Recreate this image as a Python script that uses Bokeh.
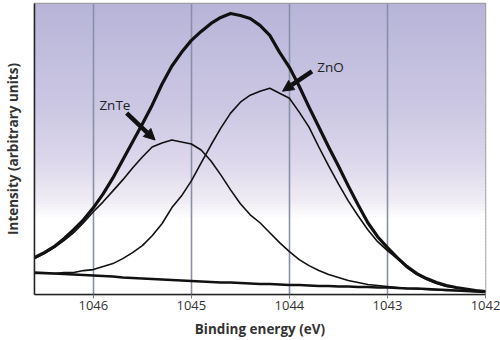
from bokeh.plotting import figure
from bokeh.models import Range1d, FixedTicker, Arrow, NormalHead, Label
from bokeh.embed import file_html
from bokeh.resources import INLINE

# Binding energy (eV), 0.1 eV steps from 1046.6 down to 1042.0
energy = [1046.6, 1046.5, 1046.4, 1046.3, 1046.2, 1046.1, 1046.0, 1045.9,
          1045.8, 1045.7, 1045.6, 1045.5, 1045.4, 1045.3, 1045.2, 1045.1,
          1045.0, 1044.9, 1044.8, 1044.7, 1044.6, 1044.5, 1044.4, 1044.3,
          1044.2, 1044.1, 1044.0, 1043.9, 1043.8, 1043.7, 1043.6, 1043.5,
          1043.4, 1043.3, 1043.2, 1043.1, 1043.0, 1042.9, 1042.8, 1042.7,
          1042.6, 1042.5, 1042.4, 1042.3, 1042.2, 1042.1, 1042.0]
# Intensities (arbitrary units)
envelope = [37, 42, 48, 56, 65, 75, 87, 101, 117, 135, 153, 171, 190, 211,
            229, 243, 255, 264, 272, 278, 282, 280, 277, 270, 260, 243, 228,
            209, 188, 168, 148, 129, 109, 90, 72, 58, 47, 37, 28, 21, 16, 12,
            9, 7, 5.5, 4, 3]
znte = [36, 41, 47, 54, 62, 72, 83, 93, 104, 115, 127, 138, 148, 152, 155,
        153, 151, 145, 134, 120, 105, 91, 80, 72, 62, 52, 43, 35, 29, 24, 20,
        17, 14, 12, 10, 9, 8, 7, 6, 5.5, 5, 4.5, 4, 4, 3.5, 3, 3]
zno = [21, 21, 21, 22, 22, 24, 25, 28, 31, 36, 42, 49, 59, 71, 87, 99, 114,
       132, 150, 167, 182, 193, 200, 204, 207, 202, 197, 183, 168, 148, 129,
       111, 94, 79, 65, 53, 44, 36, 27, 20, 15, 11, 8, 7, 5, 4, 3]
background = [22, 21.5, 21, 20.5, 20, 19.5, 19, 18.5, 18, 17, 16.5, 16, 15.5,
              15, 14.5, 14, 13.5, 13, 12.5, 12, 12, 11.5, 11, 10.5, 10.5, 10,
              9.5, 9.5, 9, 8.5, 8.5, 8, 8, 7.5, 7.5, 7, 7, 6.5, 6, 6, 5.5, 5,
              4.5, 4, 3.5, 3, 2.5]

x_ticks = [1046, 1045, 1044, 1043, 1042]
peak_names = ["ZnTe", "ZnO"]
name_x = [1045.78, 1043.58]
name_y = [190, 228]
arrow_x0 = [1045.66, 1043.77]
arrow_y0 = [182, 224]
arrow_x1 = [1045.37, 1044.07]
arrow_y1 = [155, 204]

X_LEFT, X_RIGHT = 1046.6, 1042.0
Y_MIN, Y_MAX = 0, 292

p = figure(width=500, height=340, output_backend="svg", toolbar_location=None,
           x_range=Range1d(X_LEFT, X_RIGHT), y_range=Range1d(Y_MIN, Y_MAX),
           min_border_left=34, min_border_right=15, min_border_top=3,
           min_border_bottom=10)
p.background_fill_color = "white"
p.border_fill_color = "white"
p.outline_line_color = "#9a9a9a"
p.outline_line_width = 1.5

# gradient background (decoration)
stops = [(0.00, (184, 180, 216)), (0.35, (203, 199, 227)), (0.55, (221, 216, 235)),
         (0.68, (240, 236, 245)), (0.74, (255, 255, 255)), (1.00, (255, 255, 255))]

def grad(f):
    for (f0, c0), (f1, c1) in zip(stops[:-1], stops[1:]):
        if f0 <= f <= f1:
            t = (f - f0) / (f1 - f0) if f1 > f0 else 0
            return "#%02x%02x%02x" % tuple(int(round(a + (b - a) * t)) for a, b in zip(c0, c1))
    return "#ffffff"

n = 90
span = Y_MAX - Y_MIN
tops, bottoms, cols = [], [], []
for i in range(n):
    f = (i + 0.5) / n
    top = Y_MAX - span * i / n
    bottom = Y_MAX - span * (i + 1) / n - span * 0.004
    tops.append(top)
    bottoms.append(max(bottom, Y_MIN))
    cols.append(grad(f))
p.quad(left=X_LEFT, right=X_RIGHT, top=tops, bottom=bottoms, fill_color=cols,
       line_color=None, level="underlay")

p.line(energy, background, line_color="#111111", line_width=2.6, line_join="round")
p.line(energy, znte, line_color="#111111", line_width=1.6, line_join="round")
p.line(energy, zno, line_color="#111111", line_width=1.6, line_join="round")
p.line(energy, envelope, line_color="#111111", line_width=3.2, line_join="round")

for name, lx, ly, x0, y0, x1, y1 in zip(peak_names, name_x, name_y,
                                          arrow_x0, arrow_y0, arrow_x1, arrow_y1):
    p.add_layout(Arrow(x_start=x0, y_start=y0, x_end=x1, y_end=y1,
                       line_width=4.5, line_color="#111111",
                       end=NormalHead(size=11, fill_color="#111111",
                                      line_color="#111111", line_width=1)))
    p.add_layout(Label(x=lx, y=ly, text=name, text_font="Open Sans",
                       text_font_size="13.5px", text_color="#222222",
                       text_align="center", text_baseline="middle"))

# grid
p.ygrid.grid_line_color = None
p.xgrid.ticker = FixedTicker(ticks=x_ticks)
p.xgrid.grid_line_color = "#8a8fa8"
p.xgrid.grid_line_width = 1.6
p.xgrid.level = "underlay"

# x axis
p.xaxis.ticker = FixedTicker(ticks=x_ticks)
p.xaxis.axis_label = "Binding energy (eV)"
p.xaxis.axis_label_text_font = "Open Sans"
p.xaxis.axis_label_text_font_style = "bold"
p.xaxis.axis_label_text_font_size = "13.5px"
p.xaxis.axis_label_text_color = "#333333"
p.xaxis.axis_label_standoff = 7
p.xaxis.major_label_text_font = "Open Sans"
p.xaxis.major_label_text_font_size = "13px"
p.xaxis.major_label_text_color = "#333333"
p.xaxis.major_label_standoff = 2
p.xaxis.major_tick_in = 0
p.xaxis.major_tick_out = 4
p.xaxis.major_tick_line_color = "#777777"
p.xaxis.minor_tick_line_color = None
p.xaxis.axis_line_color = "#222222"
p.xaxis.axis_line_width = 1.5

# y axis
p.yaxis.ticker = FixedTicker(ticks=[])
p.yaxis.axis_label = "Intensity (arbitrary units)"
p.yaxis.axis_label_text_font = "Open Sans"
p.yaxis.axis_label_text_font_style = "bold"
p.yaxis.axis_label_text_font_size = "13.5px"
p.yaxis.axis_label_text_color = "#333333"
p.yaxis.axis_label_standoff = 13
p.yaxis.major_tick_in = 0
p.yaxis.major_tick_out = 0
p.yaxis.major_label_standoff = 0
p.yaxis.minor_tick_line_color = None
p.yaxis.axis_line_color = "#222222"
p.yaxis.axis_line_width = 1.5

open("out.html", "w").write(file_html(p, INLINE))
